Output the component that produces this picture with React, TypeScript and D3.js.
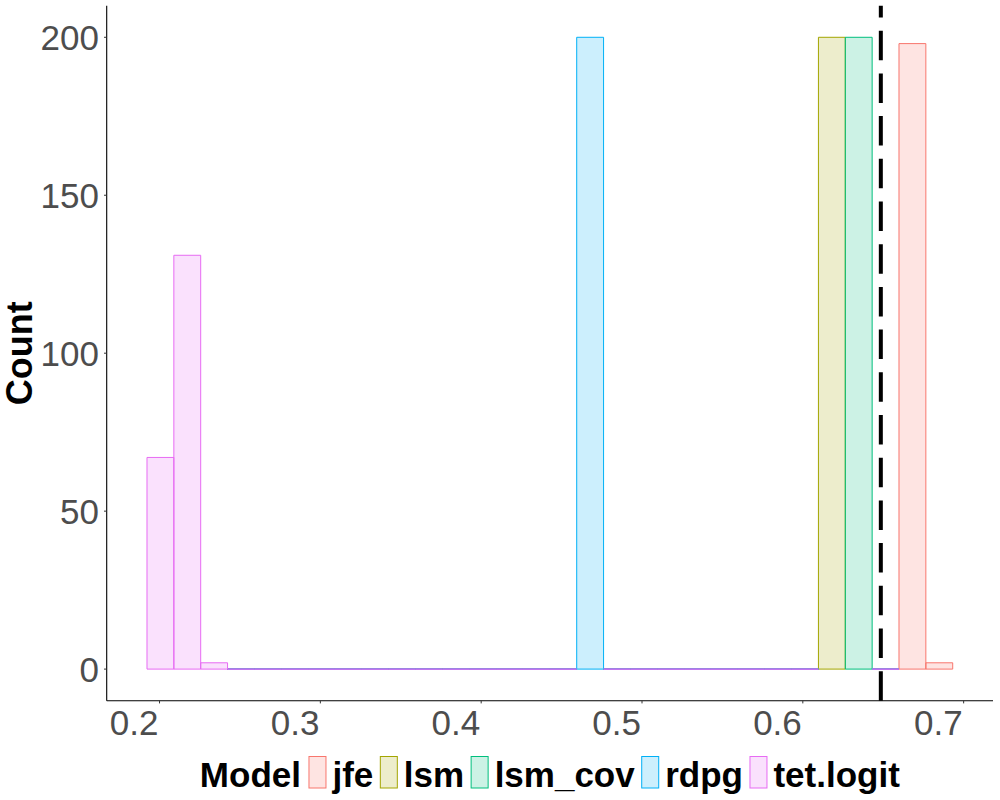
import React, { useMemo } from "react";
import * as d3 from "d3";

const models = ["jfe", "lsm", "lsm_cov", "rdpg", "tet.logit"];
const modelColors = ["#F8766D", "#A3A500", "#00BF7D", "#00B0F6", "#E76BF3"];

const binStart = 0.1922;
const binWidth = 0.0167;

// counts per bin (30 bins)
const jfeCounts = [0, 0, 0, 0, 0, 0, 0, 0, 0, 0, 0, 0, 0, 0, 0, 0, 0, 0, 0, 0, 0, 0, 0, 0, 0, 0, 0, 0, 198, 2];
const lsmCounts = [0, 0, 0, 0, 0, 0, 0, 0, 0, 0, 0, 0, 0, 0, 0, 0, 0, 0, 0, 0, 0, 0, 0, 0, 0, 200, 0, 0, 0, 0];
const lsmCovCounts = [0, 0, 0, 0, 0, 0, 0, 0, 0, 0, 0, 0, 0, 0, 0, 0, 0, 0, 0, 0, 0, 0, 0, 0, 0, 0, 200, 0, 0, 0];
const rdpgCounts = [0, 0, 0, 0, 0, 0, 0, 0, 0, 0, 0, 0, 0, 0, 0, 0, 200, 0, 0, 0, 0, 0, 0, 0, 0, 0, 0, 0, 0, 0];
const tetLogitCounts = [67, 131, 2, 0, 0, 0, 0, 0, 0, 0, 0, 0, 0, 0, 0, 0, 0, 0, 0, 0, 0, 0, 0, 0, 0, 0, 0, 0, 0, 0];

const countsByModel = [jfeCounts, lsmCounts, lsmCovCounts, rdpgCounts, tetLogitCounts];

const refLine = 0.6485;
const xTicks = [0.2, 0.3, 0.4, 0.5, 0.6, 0.7];
const yTicks = [0, 50, 100, 150, 200];

const FONT = "'Liberation Sans', Arial, Helvetica, sans-serif";

function measure(text: string, font: string): number {
  const c = document.createElement("canvas");
  const ctx = c.getContext("2d");
  if (!ctx) return text.length * 20;
  ctx.font = font;
  return ctx.measureText(text).width;
}

export default function App() {
  const W = 1000;
  const H = 800;
  const pl = 106.7, pr = 993, pt = 5.7, pb = 700.7;
  const nBins = jfeCounts.length;
  const xa = binStart, xb = binStart + nBins * binWidth;
  const ex = (xb - xa) * 0.05;
  const x = d3.scaleLinear().domain([xa - ex, xb + ex]).range([pl, pr]);
  const y = d3.scaleLinear().domain([-10, 210]).range([pb, pt]);

  const rows = d3.range(nBins).map((i) => {
    const r: any = { i };
    models.forEach((m, k) => (r[m] = countsByModel[k][i]));
    return r;
  });
  const totals = rows.map((r) => d3.sum(models, (m) => r[m]));
  const stacked = d3.stack<any>().keys([...models].reverse())(rows);
  const layerByModel: Record<string, any> = {};
  stacked.forEach((s) => (layerByModel[s.key] = s));

  const legendFontSize = 35;
  const legend = useMemo(() => {
    const bold = `bold ${legendFontSize}px 'Liberation Sans'`;
    const titleW = measure("Model", bold);
    const keyW = 17, gapKT = 6.5, gapTK = 7, gapTitle = 8;
    const labelWs = models.map((m) => measure(m, bold));
    const total = titleW + gapTitle + models.length * (keyW + gapKT) + d3.sum(labelWs) + (models.length - 1) * gapTK;
    let cx = (pl + pr) / 2 - total / 2;
    const titleX = cx;
    cx += titleW + gapTitle;
    const items = models.map((m, k) => {
      const kx = cx;
      const tx = kx + keyW + gapKT;
      cx = tx + labelWs[k] + gapTK;
      return { m, k, kx, tx, keyW };
    });
    return { titleX, items };
  }, []);

  return (
    <svg
      width={W}
      height={H}
      style={{ position: "absolute", left: 0, top: 0, background: "#fff" }}
      fontFamily={FONT}
    >
      <rect x={0} y={0} width={W} height={H} fill="#fff" />
      {/* bars, drawn in model order */}
      {models.map((m, k) => (
        <g key={m}>
          {layerByModel[m].map((d: any, i: number) => {
            // zero-height bars only visible where whole bin is empty (baseline)
            if (d[1] - d[0] === 0 && totals[i] > 0) return null;
            const x0 = x(binStart + i * binWidth);
            const x1 = x(binStart + (i + 1) * binWidth);
            const y0 = y(d[0]);
            const y1 = y(d[1]);
            return (
              <path
                key={i}
                d={`M${x0},${y0}H${x1}V${y1}H${x0}Z`}
                fill={modelColors[k]}
                fillOpacity={0.2}
                stroke={modelColors[k]}
                strokeWidth={1}
              />
            );
          })}
        </g>
      ))}
      {/* reference line */}
      <line
        x1={x(refLine)}
        x2={x(refLine)}
        y1={pb}
        y2={pt}
        stroke="#000"
        strokeWidth={4}
        strokeDasharray="29.5,13.2"
      />
      {/* axes */}
      <line x1={pl} x2={pl} y1={pt} y2={pb} stroke="#000" strokeWidth={1.1} />
      <line x1={pl} x2={pr} y1={pb} y2={pb} stroke="#000" strokeWidth={1.1} />
      {yTicks.map((t) => (
        <g key={t}>
          <line x1={pl - 2.7} x2={pl} y1={y(t)} y2={y(t)} stroke="#333" strokeWidth={1} />
          <text x={99} y={y(t) + 12.6} textAnchor="end" fontSize={35} fill="#4D4D4D">
            {t}
          </text>
        </g>
      ))}
      {xTicks.map((t) => (
        <g key={t}>
          <line x1={x(t)} x2={x(t)} y1={pb} y2={pb + 2.7} stroke="#333" strokeWidth={1} />
          <text x={x(t) - 1} y={735} textAnchor="end" fontSize={35} fill="#4D4D4D">
            {t.toFixed(1)}
          </text>
        </g>
      ))}
      {/* y title */}
      <text
        transform={`translate(32.3,${(pt + pb) / 2}) rotate(-90)`}
        textAnchor="middle"
        fontSize={36}
        fontWeight="bold"
        fill="#000"
      >
        Count
      </text>
      {/* legend */}
      <text x={legend.titleX} y={786.5} fontSize={legendFontSize} fontWeight="bold" fill="#000">
        Model
      </text>
      {legend.items.map((it) => (
        <g key={it.m}>
          <rect
            x={it.kx}
            y={756.5}
            width={it.keyW}
            height={31.5}
            fill={modelColors[it.k]}
            fillOpacity={0.2}
            stroke={modelColors[it.k]}
            strokeWidth={1}
          />
          <text x={it.tx} y={786.5} fontSize={legendFontSize} fontWeight="bold" fill="#000">
            {it.m}
          </text>
        </g>
      ))}
    </svg>
  );
}
